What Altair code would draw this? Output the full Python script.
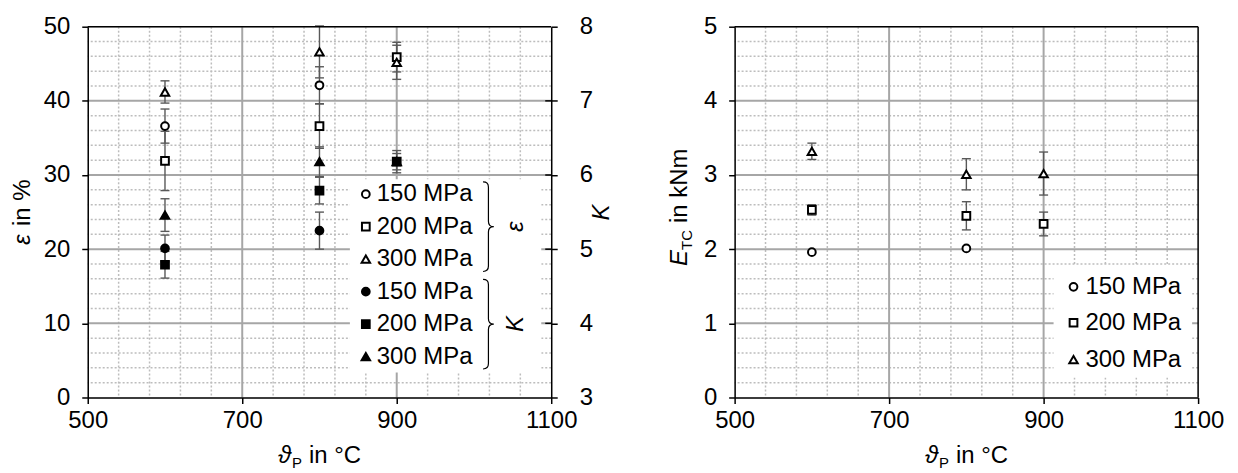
import altair as alt
import pandas as pd

FONT = "Liberation Sans"
TXT = "#000000"
ERR = "#595959"
GRID_MAJOR = "#a6a6a6"
GRID_MINOR = "#bdbdbd"

PRESSURES = ["150 MPa", "200 MPa", "300 MPa"]
SHAPES = ["circle", "square", "triangle-up"]

# ---------------- left panel: epsilon (open markers) and K (filled markers) ----------------
T_150 = [600, 800]
T_200 = [600, 800, 900]
T_300 = [600, 800, 900]

EPS_150 = [36.6, 42.1]
EPS_150_ERR = [2.3, 2.5]
EPS_200 = [31.9, 36.6, 45.9]
EPS_200_ERR = [4.0, 3.0, 2.0]
EPS_300 = [41.2, 46.6, 45.2]
EPS_300_ERR = [1.5, 3.5, 2.3]

K_150 = [5.01, 5.25]
K_150_ERR = [0.18, 0.25]
K_200 = [4.79, 5.79, 6.18]
K_200_ERR = [0.18, 0.18, 0.15]
K_300 = [5.46, 6.18, 6.18]
K_300_ERR = [0.22, 0.20, 0.11]

# ---------------- right panel: E_TC in kNm ----------------
E_150 = [1.96, 2.01]
E_150_ERR = [0.0, 0.0]
E_200 = [2.53, 2.45, 2.34]
E_200_ERR = [0.07, 0.19, 0.16]
E_300 = [3.32, 3.01, 3.02]
E_300_ERR = [0.11, 0.21, 0.29]

X_TICKS = [500, 700, 900, 1100]
EPS_TICKS = [0, 10, 20, 30, 40, 50]
K_TICKS = [3, 4, 5, 6, 7, 8]
E_TICKS = [0, 1, 2, 3, 4, 5]

W, H = 465, 372
LS = 24  # label font size

X_MINOR = [v for v in range(540, 1100, 40) if v not in (700, 900)]
X_MAJOR = [700, 900]
EPS_MINOR = [v for v in range(2, 50, 2) if v % 10]
EPS_MAJOR = [10, 20, 30, 40]
E_MINOR = [round(0.2 * i, 1) for i in range(1, 25) if i % 5]
E_MAJOR = [1, 2, 3, 4]


def sdf(T, vals, errs):
    return pd.DataFrame({"T": T, "v": vals,
                         "lo": [a - b for a, b in zip(vals, errs)],
                         "hi": [a + b for a, b in zip(vals, errs)],
                         "e": errs})


def x_enc():
    return alt.X("T:Q", scale=alt.Scale(domain=[500, 1100], nice=False, zero=False),
                 axis=alt.Axis(values=X_TICKS, title=None, grid=False, format="d",
                               domainColor="black", domainWidth=1.5,
                               tickColor="black", tickWidth=1.5, tickSize=6,
                               labelFont=FONT, labelFontSize=LS, labelColor=TXT,
                               labelPadding=5, labelFlush=False, labelOverlap=False,
                               labelBound=False, zindex=1))


def y_axis(values, orient="left", **kw):
    return alt.Axis(values=values, orient=orient, grid=False, format="d",
                    domainColor="black", domainWidth=1.5,
                    tickColor="black", tickWidth=1.5, tickSize=6,
                    labelFont=FONT, labelFontSize=LS, labelColor=TXT,
                    labelOverlap=False, labelBound=False, labelFlush=False,
                    zindex=1, **kw)


def make_y(domain, values, orient="left", **kw):
    sc = alt.Scale(domain=domain, nice=False, zero=False)
    ax = y_axis(values, orient=orient, **kw)

    def f(field):
        return alt.Y(f"{field}:Q", scale=sc, axis=ax)
    return f


def grid_layers(Yf, yminor, ymajor):
    hminor = alt.Chart(pd.DataFrame({"g": yminor})).mark_rule(
        color=GRID_MINOR, strokeWidth=1.5, strokeDash=[2, 2]).encode(y=Yf("g"))
    vminor = alt.Chart(pd.DataFrame({"T": X_MINOR})).mark_rule(
        color=GRID_MINOR, strokeWidth=1.5, strokeDash=[2, 2]).encode(x=x_enc())
    hmajor = alt.Chart(pd.DataFrame({"g": ymajor})).mark_rule(
        color=GRID_MAJOR, strokeWidth=2).encode(y=Yf("g"))
    vmajor = alt.Chart(pd.DataFrame({"T": X_MAJOR})).mark_rule(
        color=GRID_MAJOR, strokeWidth=2).encode(x=x_enc())
    return [hminor, vminor, hmajor, vmajor]


def err_layers(df, Yf):
    df = df[df["e"] > 0]
    bar = alt.Chart(df).mark_rule(color=ERR, strokeWidth=1.4).encode(
        x=x_enc(), y=Yf("lo"), y2=alt.Y2("hi"))
    cl = alt.Chart(df).mark_rule(color=ERR, strokeWidth=1.4, xOffset=-4.5, x2Offset=4.5).encode(
        x=x_enc(), x2=alt.X2("T"), y=Yf("lo"))
    ch = alt.Chart(df).mark_rule(color=ERR, strokeWidth=1.4, xOffset=-4.5, x2Offset=4.5).encode(
        x=x_enc(), x2=alt.X2("T"), y=Yf("hi"))
    return [bar, cl, ch]


def msize(shape):
    return 72 if shape == "triangle-up" else 60


def pts(df, Yf, shape, fill):
    return alt.Chart(df).mark_point(shape=shape, filled=True, fill=fill, stroke="black",
                                    strokeWidth=2, size=msize(shape), opacity=1).encode(
        x=x_enc(), y=Yf("v"))


ONE = pd.DataFrame({"a": [0]})


def txt(s, x, y, size=LS, style="normal", angle=0, align="left", baseline="alphabetic"):
    return alt.Chart(pd.DataFrame({"t": [s]})).mark_text(
        font=FONT, fontSize=size, fontStyle=style, angle=angle, align=align,
        baseline=baseline, color=TXT).encode(text="t:N", x=alt.value(x), y=alt.value(y))


def legend_layers(rows, sym_x, text_x, box, fills):
    x0, x1, y0, y1 = box
    out = [alt.Chart(ONE).mark_rect(fill="white").encode(
        x=alt.value(x0), x2=alt.value(x1), y=alt.value(y0), y2=alt.value(y1))]
    for i, ry in enumerate(rows):
        shape = SHAPES[i % 3]
        out.append(alt.Chart(ONE).mark_point(shape=shape, filled=True, fill=fills[i], stroke="black",
                                             strokeWidth=2, size=msize(shape), opacity=1).encode(
            x=alt.value(sym_x), y=alt.value(ry)))
        out.append(txt(PRESSURES[i % 3], text_x, ry, baseline="middle"))
    return out


def x_title():
    a = W / 2 - 41.5
    yb = 438
    return [txt("ϑ", a, yb, style="italic"),
            txt("P", a + 14, yb + 5, size=15),
            txt("in °C", a + 31, yb)]


BRACE = "M -0.12 -1 Q 0 -1 0 -0.88 L 0 -0.12 Q 0 0 0.12 0 Q 0 0 0 0.12 L 0 0.88 Q 0 1 -0.12 1"

# ---------------- build left panel ----------------
Y_eps = make_y([0, 50], EPS_TICKS, "left", title=None, labelPadding=12)
Y_K = make_y([3, 8], K_TICKS, "right", title="K", titleFontStyle="italic", titleFont=FONT,
             titleFontSize=LS, titleFontWeight="normal", titleColor=TXT, titleAngle=270,
             titlePadding=21, labelPadding=22)

eps_dfs = [sdf(T_150, EPS_150, EPS_150_ERR), sdf(T_200, EPS_200, EPS_200_ERR),
           sdf(T_300, EPS_300, EPS_300_ERR)]
k_dfs = [sdf(T_150, K_150, K_150_ERR), sdf(T_200, K_200, K_200_ERR),
         sdf(T_300, K_300, K_300_ERR)]

eps_layers = grid_layers(Y_eps, EPS_MINOR, EPS_MAJOR)
for d in eps_dfs:
    eps_layers += err_layers(d, Y_eps)
for d, sh in zip(eps_dfs, SHAPES):
    eps_layers.append(pts(d, Y_eps, sh, "white"))

rows_l = [168 + 32.6 * i for i in range(6)]
eps_layers += legend_layers(rows_l, 279, 290, (263, 455, 153, 347),
                            ["white"] * 3 + ["black"] * 3)
for r in (rows_l[1], rows_l[4]):
    eps_layers.append(alt.Chart(ONE).mark_point(shape=BRACE, filled=False, stroke="black",
                                                strokeWidth=1.2, size=90 * 90, opacity=1).encode(
        x=alt.value(402), y=alt.value(r)))
eps_layers.append(txt("ε", 437, rows_l[1], style="italic", angle=270, align="center"))
eps_layers.append(txt("K", 437, rows_l[4], style="italic", angle=270, align="center"))
# titles
b = H / 2 + 33
eps_layers.append(txt("ε", -58, b, style="italic", angle=270))
eps_layers.append(txt("in %", -58, b - 19, angle=270))
eps_layers += x_title()
eps_layers.append(alt.Chart(ONE).mark_rule(color="black", strokeWidth=1.5).encode(
    x=alt.value(0), x2=alt.value(W), y=alt.value(0)))

k_layers = []
for d in k_dfs:
    k_layers += err_layers(d, Y_K)
for d, sh in zip(k_dfs, SHAPES):
    k_layers.append(pts(d, Y_K, sh, "black"))
k_layers.append(alt.Chart(pd.DataFrame({"g": [4, 5, 6, 7]})).mark_rule(
    color="black", strokeWidth=1.5).encode(y=Y_K("g"), x=alt.value(W - 6), x2=alt.value(W)))

left = alt.layer(alt.layer(*eps_layers), alt.layer(*k_layers)).resolve_scale(
    y="independent").properties(width=W, height=H)

# ---------------- build right panel ----------------
Y_E = make_y([0, 5], E_TICKS, "left", title=None, labelPadding=12)
e_dfs = [sdf(T_150, E_150, E_150_ERR), sdf(T_200, E_200, E_200_ERR),
         sdf(T_300, E_300, E_300_ERR)]
r_layers = grid_layers(Y_E, E_MINOR, E_MAJOR)
for d in e_dfs:
    r_layers += err_layers(d, Y_E)
for d, sh in zip(e_dfs, SHAPES):
    r_layers.append(pts(d, Y_E, sh, "white"))
r_layers += legend_layers([261, 297, 334], 340, 352, (320, 459, 240, 352), ["white"] * 3)
c = 240
r_layers.append(txt("E", -48, c, style="italic", angle=270))
r_layers.append(txt("TC", -43, c - 16, size=15, angle=270))
r_layers.append(txt("in kNm", -48, c - 43, angle=270))
r_layers += x_title()
r_layers.append(alt.Chart(ONE).mark_rule(color="black", strokeWidth=1.5).encode(
    x=alt.value(0), x2=alt.value(W), y=alt.value(0)))
r_layers.append(alt.Chart(ONE).mark_rule(color="black", strokeWidth=1.5).encode(
    x=alt.value(W), y=alt.value(0), y2=alt.value(H)))

right = alt.layer(*r_layers).properties(width=W, height=H)

chart = alt.hconcat(left, right, spacing=53).properties(
    padding={"left": 2, "top": 5, "right": 5, "bottom": 5}
).configure_view(stroke=None).configure(font=FONT)

chart.save("out.html", embed_options={"renderer": "svg", "actions": False})
